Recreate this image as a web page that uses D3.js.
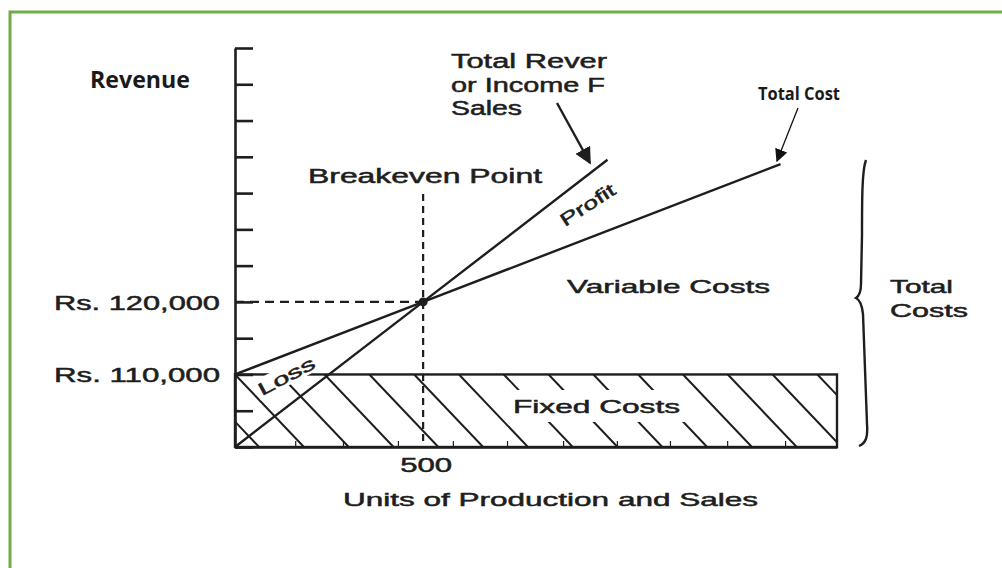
<!DOCTYPE html>
<html>
<head>
<meta charset="utf-8">
<script src="https://cdn.jsdelivr.net/npm/d3@7"></script>
<style>
  body { margin: 0; background: #fff; }
  svg { display: block; }
  .scan { font-family: "Liberation Sans", Arial, sans-serif; fill: #1e1e1e; stroke: #1e1e1e; stroke-width: 0.5px; }
  .note { font-family: "Open Sans", "Liberation Sans", sans-serif; font-weight: 700; fill: #1a1a1a; }
</style>
</head>
<body>
<div id="chart"></div>
<script>
// values (break-even chart, not to scale)
const yTicks = [100000, 105000, 110000, 115000, 120000, 125000, 130000, 135000, 140000, 145000, 150000, 155000];
const yLabelValues = [110000, 120000];
const yLabels = ["Rs. 110,000", "Rs. 120,000"];
const xLabelValues = [500];
const xLabels = ["500"];
const xMinorTicks = [160, 287, 433, 579, 723, 872, 1015, 1156, 1308, 1462];
const maxUnits = 1600;

const revenueUnits = [0, 500, 990];
const revenueValues = [100000, 120000, 139600];
const costUnits = [0, 500, 1450];
const costValues = [110000, 120000, 139000];
const fixedCost = 110000;
const breakEvenUnits = 500;
const breakEvenValue = 120000;

const W = 1002, H = 568;
const svg = d3.select("#chart").append("svg")
    .attr("width", W)
    .attr("height", H);

// green frame, runs off the right and bottom edges
svg.append("rect")
    .attr("x", 10).attr("y", 12)
    .attr("width", 1100).attr("height", 700)
    .attr("fill", "none")
    .attr("stroke", "#70ad47")
    .attr("stroke-width", 3);

const x = d3.scaleLinear().domain([0, maxUnits]).range([235, 837]);
const y = d3.scaleLinear().domain([100000, 155000]).range([447, 48]);

const ink = "#1e1e1e";

// arrow heads
const defs = svg.append("defs");
defs.append("marker")
    .attr("id", "arrow")
    .attr("viewBox", "0 0 10 10")
    .attr("refX", 9).attr("refY", 5)
    .attr("markerWidth", 7).attr("markerHeight", 7)
    .attr("markerUnits", "strokeWidth")
    .attr("orient", "auto")
    .append("path").attr("d", "M0,0L10,5L0,10z").attr("fill", ink);
defs.append("marker")
    .attr("id", "arrow2")
    .attr("viewBox", "0 0 10 10")
    .attr("refX", 9).attr("refY", 5)
    .attr("markerWidth", 10).attr("markerHeight", 10)
    .attr("markerUnits", "strokeWidth")
    .attr("orient", "auto")
    .append("path").attr("d", "M0,0L10,5L0,10z").attr("fill", "#111");

// fixed cost block with hatching
const fx0 = x(0), fx1 = x(maxUnits), fy0 = y(fixedCost), fy1 = y(100000);
defs.append("clipPath").attr("id", "fixedClip")
    .append("rect")
    .attr("x", fx0).attr("y", fy0)
    .attr("width", fx1 - fx0).attr("height", fy1 - fy0);

const hatchStep = 44.8, drop = fy1 - fy0;
const hatchStarts = d3.range(fx0 - 3 * hatchStep, fx1, hatchStep);
svg.append("g")
    .attr("clip-path", "url(#fixedClip)")
    .selectAll("line")
    .data(hatchStarts)
    .enter()
    .append("line")
    .attr("x1", d => d).attr("y1", fy0)
    .attr("x2", d => d + drop * 0.95).attr("y2", fy1)
    .attr("stroke", ink)
    .attr("stroke-width", 2);

svg.append("rect")
    .attr("x", fx0).attr("y", fy0)
    .attr("width", fx1 - fx0).attr("height", fy1 - fy0)
    .attr("fill", "none")
    .attr("stroke", ink)
    .attr("stroke-width", 2.4);

// label in the hatched block
svg.append("rect")
    .attr("x", 505).attr("y", 390)
    .attr("width", 183).attr("height", 32)
    .attr("fill", "#fff");
svg.append("text")
    .attr("class", "scan")
    .attr("x", 513).attr("y", 413)
    .attr("font-size", 19)
    .attr("textLength", 167).attr("lengthAdjust", "spacingAndGlyphs")
    .text("Fixed Costs");

// "Loss" label
const loss = svg.append("g").attr("transform", "translate(288,379) rotate(-28)");
loss.append("rect")
    .attr("x", -34).attr("y", -14)
    .attr("width", 68).attr("height", 20)
    .attr("fill", "#fff");
loss.append("text")
    .attr("class", "scan")
    .attr("text-anchor", "middle")
    .attr("y", 3)
    .attr("font-size", 18)
    .attr("textLength", 62).attr("lengthAdjust", "spacingAndGlyphs")
    .text("Loss");

// y axis with ticks to the right
svg.append("g")
    .attr("transform", `translate(${x(0)},0)`)
    .call(d3.axisRight(y).tickValues(yTicks).tickSize(18).tickSizeOuter(0).tickFormat(""))
    .call(g => g.selectAll("path, line").attr("stroke", ink).attr("stroke-width", 2.6));

// x axis line and small marks
svg.append("g")
    .attr("transform", `translate(0,${y(100000)})`)
    .call(d3.axisTop(x).tickValues(xMinorTicks).tickSize(6).tickSizeOuter(0).tickFormat(""))
    .call(g => g.select(".domain").attr("stroke", ink).attr("stroke-width", 2.6))
    .call(g => g.selectAll(".tick line").attr("stroke", ink).attr("stroke-width", 1.2));

// y labels
svg.selectAll(".ylab")
    .data(yLabelValues)
    .enter()
    .append("text")
    .attr("class", "scan ylab")
    .attr("x", 220)
    .attr("y", d => y(d) + 8)
    .attr("text-anchor", "end")
    .attr("font-size", 21)
    .attr("textLength", 166).attr("lengthAdjust", "spacingAndGlyphs")
    .text((d, i) => yLabels[i]);

// x labels
svg.selectAll(".xlab")
    .data(xLabelValues)
    .enter()
    .append("text")
    .attr("class", "scan xlab")
    .attr("x", d => x(d) + 3)
    .attr("y", 472)
    .attr("text-anchor", "middle")
    .attr("font-size", 20)
    .attr("textLength", 52).attr("lengthAdjust", "spacingAndGlyphs")
    .text((d, i) => xLabels[i]);

svg.append("text")
    .attr("class", "scan")
    .attr("x", 343).attr("y", 506)
    .attr("font-size", 19)
    .attr("textLength", 415).attr("lengthAdjust", "spacingAndGlyphs")
    .text("Units of Production and Sales");

// break-even guides
svg.append("line")
    .attr("x1", x(0)).attr("y1", y(breakEvenValue))
    .attr("x2", x(breakEvenUnits)).attr("y2", y(breakEvenValue))
    .attr("stroke", ink).attr("stroke-width", 2.2)
    .attr("stroke-dasharray", "9,6");
svg.append("line")
    .attr("x1", x(breakEvenUnits)).attr("y1", 194)
    .attr("x2", x(breakEvenUnits)).attr("y2", y(100000))
    .attr("stroke", ink).attr("stroke-width", 2.2)
    .attr("stroke-dasharray", "7,5");

// revenue and cost lines
const line = d3.line().x(d => x(d[0])).y(d => y(d[1]));
svg.append("path")
    .datum(d3.zip(revenueUnits, revenueValues))
    .attr("d", line)
    .attr("fill", "none")
    .attr("stroke", ink)
    .attr("stroke-width", 2.4);
svg.append("path")
    .datum(d3.zip(costUnits, costValues))
    .attr("d", line)
    .attr("fill", "none")
    .attr("stroke", ink)
    .attr("stroke-width", 2.4);

svg.append("circle")
    .attr("cx", x(breakEvenUnits)).attr("cy", y(breakEvenValue))
    .attr("r", 4.5)
    .attr("fill", ink);

// scanned labels
svg.append("text")
    .attr("class", "scan")
    .attr("x", 308).attr("y", 183)
    .attr("font-size", 20)
    .attr("textLength", 234).attr("lengthAdjust", "spacingAndGlyphs")
    .text("Breakeven Point");

svg.append("text")
    .attr("class", "scan")
    .attr("transform", "translate(591,210) rotate(-33)")
    .attr("text-anchor", "middle")
    .attr("font-size", 18)
    .attr("textLength", 62).attr("lengthAdjust", "spacingAndGlyphs")
    .text("Profit");

svg.append("text")
    .attr("class", "scan")
    .attr("x", 567).attr("y", 293)
    .attr("font-size", 19)
    .attr("textLength", 203).attr("lengthAdjust", "spacingAndGlyphs")
    .text("Variable Costs");

svg.append("text")
    .attr("class", "scan")
    .attr("x", 890).attr("y", 293)
    .attr("font-size", 19)
    .attr("textLength", 63).attr("lengthAdjust", "spacingAndGlyphs")
    .text("Total");
svg.append("text")
    .attr("class", "scan")
    .attr("x", 890).attr("y", 317)
    .attr("font-size", 19)
    .attr("textLength", 78).attr("lengthAdjust", "spacingAndGlyphs")
    .text("Costs");

// the source label is cut off by a white patch
const revLines = [["Total Rever", 68, 156], ["or Income F", 92, 154], ["Sales", 115, 71]];
svg.selectAll(".rev")
    .data(revLines)
    .enter()
    .append("text")
    .attr("class", "scan rev")
    .attr("x", 451)
    .attr("y", d => d[1])
    .attr("font-size", 20)
    .attr("textLength", d => d[2]).attr("lengthAdjust", "spacingAndGlyphs")
    .text(d => d[0]);

// pointer to the revenue line
svg.append("line")
    .attr("x1", 557).attr("y1", 103)
    .attr("x2", 590).attr("y2", 163)
    .attr("stroke", ink).attr("stroke-width", 2.4)
    .attr("marker-end", "url(#arrow)");

// brace for total costs
svg.append("path")
    .attr("d", "M866,160 C862,170 862,200 862,235 L861,284 C861,292 859,296 856,298 C860,300 862,305 863,314 L867,424 C868,437 866,443 859,446")
    .attr("fill", "none")
    .attr("stroke", ink)
    .attr("stroke-width", 2.4);

// added labels
svg.append("text")
    .attr("class", "note")
    .attr("x", 90).attr("y", 88)
    .attr("font-size", 23)
    .attr("textLength", 100).attr("lengthAdjust", "spacingAndGlyphs")
    .text("Revenue");

svg.append("text")
    .attr("class", "note")
    .attr("x", 758).attr("y", 100)
    .attr("font-size", 17)
    .attr("textLength", 82).attr("lengthAdjust", "spacingAndGlyphs")
    .text("Total Cost");

svg.append("line")
    .attr("x1", 798).attr("y1", 108)
    .attr("x2", 777).attr("y2", 161)
    .attr("stroke", "#111").attr("stroke-width", 1.3)
    .attr("marker-end", "url(#arrow2)");
</script>
</body>
</html>
